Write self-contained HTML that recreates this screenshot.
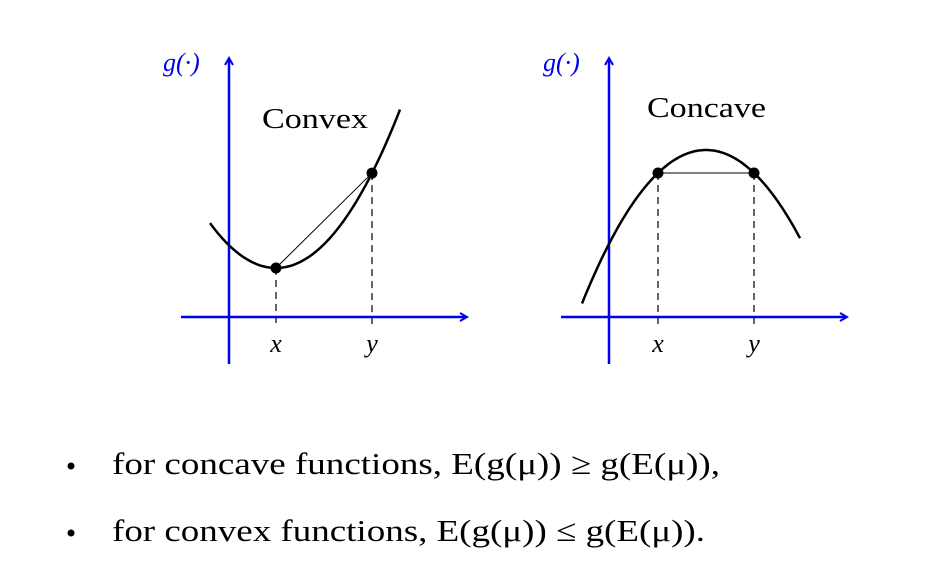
<!DOCTYPE html>
<html><head><meta charset="utf-8"><style>
body{margin:0;background:#fff;width:936px;height:582px;overflow:hidden}
svg{position:absolute;left:0;top:0}
.t{font-family:"Liberation Serif",serif}
</style></head><body>
<svg id="s" width="936" height="582">
<defs><marker id="ar" markerWidth="10" markerHeight="10" refX="7" refY="5" orient="auto" markerUnits="userSpaceOnUse"><path d="M1,1 L8,5 L1,9" fill="none" stroke="#0000ee" stroke-width="2"/></marker></defs>
<g id="left"></g>
<g id="right"></g>
<text class="t" x="262" y="128" font-size="28" textLength="106" lengthAdjust="spacingAndGlyphs">Convex</text>
<text class="t" x="647" y="117" font-size="28" textLength="119" lengthAdjust="spacingAndGlyphs">Concave</text>
<text class="t" x="163" y="71" font-size="26" font-style="italic" fill="#0000ee">g(·)</text>
<text class="t" x="543" y="71" font-size="26" font-style="italic" fill="#0000ee">g(·)</text>
<circle cx="71" cy="466" r="3.5" fill="#000"/>
<text class="t" x="112" y="474" font-size="31" textLength="608" lengthAdjust="spacingAndGlyphs">for concave functions, E(g(μ)) ≥ g(E(μ)),</text>
<circle cx="71" cy="533" r="3.5" fill="#000"/>
<text class="t" x="112" y="541" font-size="31" textLength="593" lengthAdjust="spacingAndGlyphs">for convex functions, E(g(μ)) ≤ g(E(μ)).</text>
</svg>
<script>
// chart parameters: parabola y = a*(x-h)^2 + k in screen coords (y grows downward)
const curveVertexX=[276,706];
const curveVertexY=[268,150];
const curveA=[-0.0103,0.00998];
const curveRange=[[210,400],[582,800]];
const pointX=[[276,372],[658,754]];
const axisOriginX=[229,609];
const tickLabels=["x","y"];
const NS="http://www.w3.org/2000/svg";
const axisY=317;
function mk(tag,attrs,parent){const e=document.createElementNS(NS,tag);for(const k in attrs)e.setAttribute(k,attrs[k]);parent.appendChild(e);return e;}
["left","right"].forEach((id,i)=>{
  const g=document.getElementById(id);
  const f=x=>curveA[i]*(x-curveVertexX[i])**2+curveVertexY[i];
  const ox=axisOriginX[i];
  let e=mk('line',{x1:ox-48,y1:axisY,x2:ox+237,y2:axisY,stroke:'#0000ee','stroke-width':2.5,'marker-end':'url(#ar)'},g);
  
  e=mk('line',{x1:ox,y1:364,x2:ox,y2:59,stroke:'#0000ee','stroke-width':2.5,'marker-end':'url(#ar)'},g);
  
  let d='';const [a,b]=curveRange[i];
  for(let x=a;x<=b;x+=2)d+=(x===a?'M':'L')+x+','+f(x).toFixed(1);
  e=mk('path',{d:d,fill:'none',stroke:'#000','stroke-width':2.5},g);
  
  const [p,q]=pointX[i];
  e=mk('line',{x1:p,y1:f(p),x2:q,y2:f(q),stroke:'#000','stroke-width':1},g);
  
  pointX[i].forEach((px,j)=>{
    let l=mk('line',{x1:px,y1:f(px),x2:px,y2:axisY+10,stroke:'#000','stroke-width':1.2,'stroke-dasharray':'7,5'},g);
    
    let c=mk('circle',{cx:px,cy:f(px),r:5.5,fill:'#000'},g);
    
    let t=mk('text',{x:px,y:352,'text-anchor':'middle','font-size':26,'font-style':'italic','class':'t'},g);
    t.textContent=tickLabels[j];
    
  });
});
</script>
</body></html>
